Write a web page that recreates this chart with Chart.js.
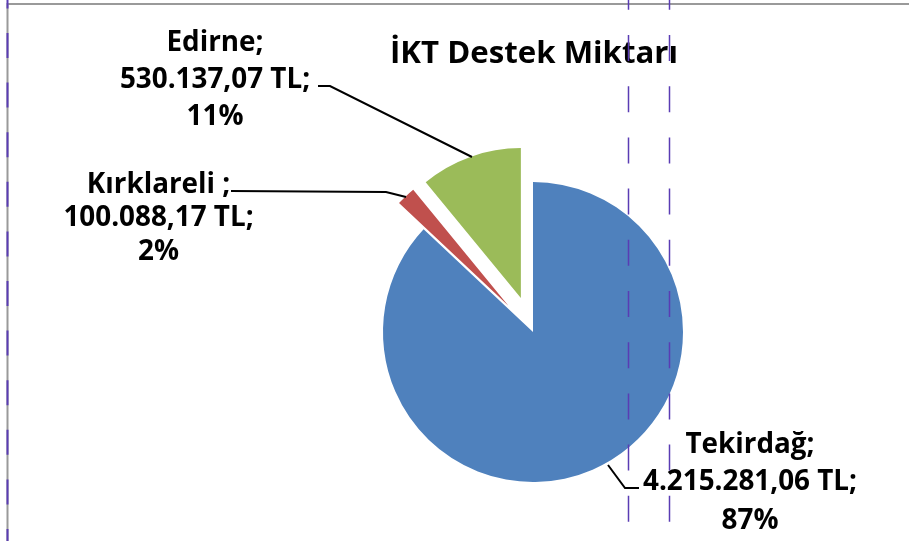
<!DOCTYPE html>
<html><head><meta charset="utf-8">
<script src="https://cdn.jsdelivr.net/npm/chart.js@4.4.1/dist/chart.umd.min.js"></script>
<style>html,body{margin:0;padding:0;background:#fff;overflow:hidden}#wrap{width:909px;height:541px;position:relative;background:#fff}</style>
</head><body><div id="wrap"><canvas id="c" width="909" height="541"></canvas></div>
<script>
const categories = ['Tekirdağ', 'Kırklareli ', 'Edirne'];
const values = [4215281.06, 100088.17, 530137.07];
const currency = 'TL';
const chartTitle = 'İKT Destek Miktarı';

const colors = ['#4F81BD', '#C0504D', '#9BBB59'];
const explode = [0, 36, 36];
const labelPos = [
  {cx: 750, ys: [453, 490, 529], leader: [[608, 465], [625, 488], [639, 488]]},
  {cx: 158.5, ys: [193, 226, 260], leader: [[231, 191], [386, 192], [406, 197]]},
  {cx: 215, ys: [51, 88, 125], leader: [[318, 86], [330, 86], [472, 157]]}
];

function fmtTR(v) {
  const parts = v.toFixed(2).split('.');
  return parts[0].replace(/\B(?=(\d{3})+(?!\d))/g, '.') + ',' + parts[1];
}
const total = values.reduce((a, b) => a + b, 0);
function labelLines(i) {
  return [categories[i] + ';', fmtTR(values[i]) + ' ' + currency + ';', Math.round(values[i] / total * 100) + '%'];
}
function txt(ctx, s, cx, y, sx) {
  ctx.save(); ctx.translate(cx, y); ctx.scale(sx, 1); ctx.fillText(s, 0, 0); ctx.restore();
}

const explodePlugin = {
  id: 'explodePie',
  beforeDatasetDraw(chart, args) {
    const ctx = chart.ctx;
    args.meta.data.forEach((arc, i) => {
      const d = explode[i] || 0;
      const mid = (arc.startAngle + arc.endAngle) / 2;
      ctx.save();
      ctx.translate(Math.cos(mid) * d, Math.sin(mid) * d);
      arc.draw(ctx);
      ctx.restore();
    });
    return false;
  }
};

const textPlugin = {
  id: 'texts',
  afterDatasetsDraw(chart) {
    const ctx = chart.ctx;
    ctx.save();
    ctx.fillStyle = '#000';
    ctx.textAlign = 'center';
    ctx.textBaseline = 'alphabetic';
    ctx.font = 'bold 30px "Open Sans"';
    const tw = ctx.measureText(chartTitle).width;
    txt(ctx, chartTitle, 534, 63, 288 / tw);
    ctx.font = 'bold 28px "Open Sans"';
    const ref = labelLines(0)[1];
    const sx = 214 / ctx.measureText(ref).width;
    labelPos.forEach((p, i) => {
      const lines = labelLines(i);
      lines.forEach((l, k) => txt(ctx, l, p.cx, p.ys[k], sx));
      ctx.beginPath();
      p.leader.forEach((pt, k) => k ? ctx.lineTo(pt[0], pt[1]) : ctx.moveTo(pt[0], pt[1]));
      ctx.strokeStyle = '#000';
      ctx.lineWidth = 2;
      ctx.stroke();
    });
    ctx.restore();
  },
  afterDraw(chart) {
    const ctx = chart.ctx;
    ctx.save();
    ctx.strokeStyle = '#9a9a9a';
    ctx.lineWidth = 2;
    ctx.beginPath(); ctx.moveTo(7, 4); ctx.lineTo(909, 4); ctx.stroke();
    ctx.beginPath(); ctx.moveTo(7.5, 3); ctx.lineTo(7.5, 541); ctx.stroke();
    ctx.strokeStyle = '#5a3cb4';
    ctx.lineWidth = 2;
    ctx.setLineDash([25, 24.6]);
    ctx.beginPath(); ctx.moveTo(7.5, -16.6); ctx.lineTo(7.5, 541); ctx.stroke();
    ctx.lineWidth = 1.5;
    ctx.setLineDash([26, 25.2]);
    [628.5, 669.5].forEach(x => { ctx.beginPath(); ctx.moveTo(x, -16.2); ctx.lineTo(x, 541); ctx.stroke(); });
    ctx.restore();
  }
};

new Chart(document.getElementById('c'), {
  type: 'pie',
  data: {
    labels: categories,
    datasets: [{
      data: values,
      backgroundColor: colors,
      borderWidth: 0
    }]
  },
  options: {
    responsive: false,
    animation: false,
    devicePixelRatio: 1,
    radius: 150,
    layout: {padding: {left: 157, right: 0, top: 123, bottom: 0}},
    plugins: {legend: {display: false}, title: {display: false}, tooltip: {enabled: false}}
  },
  plugins: [explodePlugin, textPlugin]
});
</script>
</body></html>
